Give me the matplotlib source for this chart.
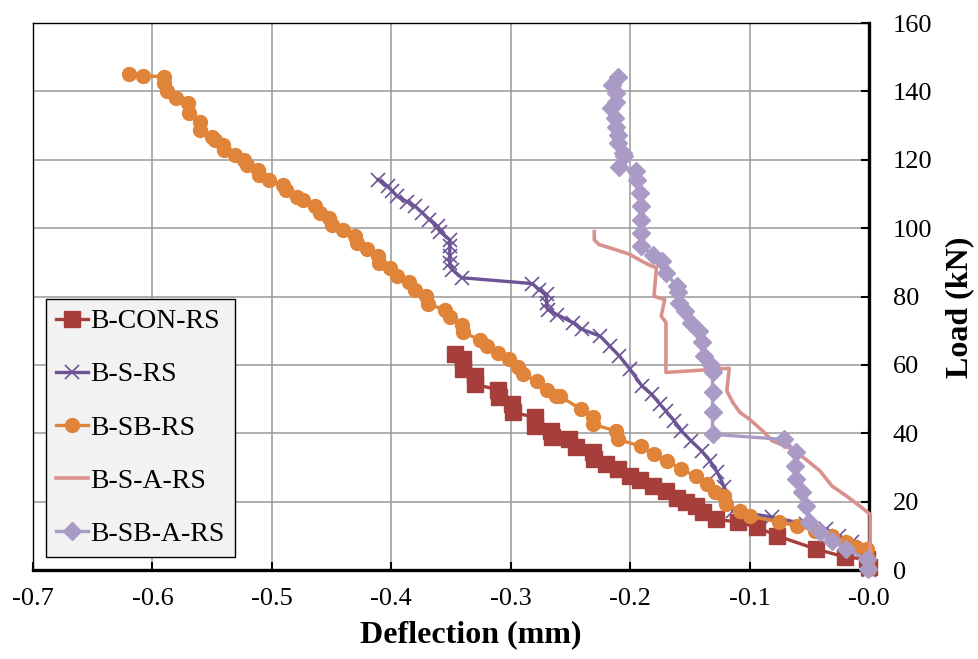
import numpy as np
import matplotlib.pyplot as plt
from matplotlib.lines import Line2D

plt.rcParams['font.family'] = ['Liberation Serif', 'DejaVu Serif']
plt.rcParams['axes.unicode_minus'] = False

# Load-deflection curves (deflection in mm, load in kN)
con_x = [-0.347, -0.340, -0.340, -0.330, -0.330, -0.311, -0.310, -0.299, -0.298, -0.280,
         -0.280, -0.266, -0.265, -0.251, -0.245, -0.231, -0.230, -0.220, -0.210, -0.200,
         -0.192, -0.181, -0.170, -0.161, -0.153, -0.145, -0.139, -0.128, -0.110, -0.094,
         -0.077, -0.044, -0.020, -0.002, 0.0]
con_y = [63.1, 61.6, 58.7, 56.7, 54.3, 52.8, 50.5, 48.5, 46.1, 44.7,
         42.1, 40.7, 38.8, 38.2, 35.9, 34.4, 32.4, 30.9, 29.5, 27.5,
         26.4, 24.6, 23.2, 21.2, 19.8, 18.8, 16.9, 14.9, 14.0, 12.6,
         10.0, 6.1, 3.8, 3.2, 1.0]

s_x = [-0.411, -0.403, -0.399, -0.395, -0.387, -0.380, -0.374, -0.368, -0.361, -0.359,
       -0.351, -0.351, -0.351, -0.351, -0.349, -0.341, -0.282, -0.276, -0.270, -0.270,
       -0.269, -0.261, -0.248, -0.240, -0.225, -0.217, -0.209, -0.200, -0.190, -0.182,
       -0.175, -0.170, -0.163, -0.157, -0.149, -0.140, -0.133, -0.127, -0.121, -0.114,
       -0.081, -0.053, -0.036, -0.025, -0.014, -0.004, 0.0, 0.0]
s_y = [114.2, 112.2, 110.8, 109.3, 107.8, 106.4, 104.5, 102.5, 100.5, 99.0,
       96.6, 94.7, 91.8, 89.9, 87.9, 85.5, 83.8, 82.0, 80.6, 78.2,
       76.2, 74.7, 72.4, 70.4, 68.4, 65.5, 62.6, 58.7, 53.8, 51.4,
       48.5, 46.5, 43.6, 40.7, 37.8, 34.8, 31.9, 28.6, 24.2, 17.3,
       15.5, 13.4, 12.0, 10.0, 8.2, 6.7, 3.0, 0.0]

sb_x = [-0.620, -0.608, -0.590, -0.590, -0.588, -0.580, -0.570, -0.569, -0.560, -0.560,
        -0.550, -0.548, -0.541, -0.540, -0.531, -0.523, -0.521, -0.512, -0.511, -0.502,
        -0.491, -0.488, -0.479, -0.474, -0.464, -0.460, -0.452, -0.450, -0.440, -0.430,
        -0.429, -0.420, -0.411, -0.410, -0.401, -0.395, -0.385, -0.380, -0.371, -0.369,
        -0.355, -0.351, -0.341, -0.340, -0.326, -0.320, -0.311, -0.301, -0.294, -0.290,
        -0.278, -0.270, -0.262, -0.259, -0.241, -0.231, -0.231, -0.212, -0.210, -0.191,
        -0.180, -0.169, -0.157, -0.145, -0.136, -0.129, -0.121, -0.120, -0.108, -0.100,
        -0.075, -0.060, -0.045, -0.031, -0.019, -0.011, -0.002, -0.001, 0.0]
sb_y = [145.0, 144.6, 144.3, 142.5, 140.0, 138.0, 136.6, 133.7, 131.2, 128.8,
        126.8, 125.8, 124.4, 122.9, 121.5, 120.0, 118.5, 117.0, 115.6, 114.2,
        112.7, 111.2, 109.2, 108.3, 106.4, 104.5, 103.0, 101.0, 99.6, 97.6,
        95.7, 94.0, 91.8, 89.9, 88.4, 85.9, 84.2, 82.0, 80.1, 77.7,
        76.2, 73.9, 71.8, 69.5, 67.4, 65.5, 63.6, 61.6, 59.3, 57.2,
        55.3, 52.8, 50.9, 50.9, 47.0, 44.7, 42.6, 40.7, 38.2, 36.2,
        33.9, 31.9, 29.5, 27.4, 25.1, 22.9, 21.7, 19.3, 17.3, 15.8,
        14.0, 13.0, 11.5, 9.9, 8.2, 6.7, 6.1, 3.2, 0.3]

sa_x = [-0.230, -0.230, -0.226, -0.212, -0.200, -0.190, -0.182, -0.178, -0.180, -0.171,
        -0.174, -0.170, -0.170, -0.117, -0.119, -0.114, -0.108, -0.100, -0.089, -0.081,
        -0.064, -0.053, -0.041, -0.031, -0.019, -0.008, 0.001, 0.001]
sa_y = [99.0, 96.6, 95.2, 93.7, 92.3, 90.3, 88.9, 88.5, 80.1, 79.1,
        74.3, 72.4, 57.8, 59.0, 52.4, 49.0, 46.1, 44.1, 40.7, 37.8,
        35.3, 32.4, 29.0, 24.6, 21.7, 18.8, 16.3, 0.0]

sba_x = [-0.210, -0.215, -0.212, -0.212, -0.216, -0.213, -0.212, -0.210, -0.210, -0.206,
         -0.205, -0.209, -0.195, -0.194, -0.192, -0.191, -0.191, -0.191, -0.191, -0.181,
         -0.173, -0.170, -0.161, -0.160, -0.159, -0.154, -0.149, -0.142, -0.140, -0.138,
         -0.132, -0.131, -0.131, -0.131, -0.131, -0.071, -0.061, -0.062, -0.061, -0.056,
         -0.053, -0.050, -0.041, -0.031, -0.019, -0.002, -0.001]
sba_y = [144.3, 141.9, 139.5, 137.0, 135.2, 132.3, 129.7, 127.3, 125.0, 122.0,
         121.0, 118.0, 116.6, 114.0, 110.3, 106.4, 102.5, 98.7, 94.7, 92.3,
         90.3, 87.0, 83.0, 81.2, 78.2, 75.7, 72.4, 69.9, 66.6, 62.6,
         60.1, 57.8, 52.0, 46.1, 39.7, 38.2, 34.4, 30.4, 26.6, 22.8,
         18.8, 14.0, 11.1, 8.6, 6.1, 3.2, 0.3]

labels = ['B-CON-RS', 'B-S-RS', 'B-SB-RS', 'B-S-A-RS', 'B-SB-A-RS']
colors = ['#A63F3B', '#6D5495', '#E0843A', '#D9918C', '#A99BC6']

fig = plt.figure(figsize=(9.79, 6.59), dpi=100)
ax = fig.add_axes([0.0337, 0.135, 0.8539, 0.830])

ax.plot(con_x, con_y, color=colors[0], lw=2.4, marker='s', ms=11, clip_on=False, zorder=3)
ax.plot(s_x, s_y, color=colors[1], lw=2.4, marker='x', ms=9.5, mew=1.2, clip_on=False, zorder=3)
ax.plot(sb_x, sb_y, color=colors[2], lw=2.4, marker='o', ms=10, clip_on=False, zorder=3)
ax.plot(sa_x, sa_y, color=colors[3], lw=2.6, clip_on=False, zorder=3)
ax.plot(sba_x, sba_y, color=colors[4], lw=2.4, marker='D', ms=9, clip_on=False, zorder=3)

ax.set_xlim(-0.7, 0.0)
ax.set_ylim(0, 160)
ax.set_xticks(np.arange(-0.7, 0.01, 0.1))
ax.set_xticklabels(['%.1f' % v for v in np.arange(-0.7, 0.01, 0.1)])
ax.set_yticks(np.arange(0, 161, 20))

ax.yaxis.tick_right()
ax.yaxis.set_label_position('right')
ax.grid(True, color='#999999', lw=1.1)
ax.set_axisbelow(True)

for side in ['top', 'left']:
    ax.spines[side].set_linewidth(1.0)
for side in ['bottom', 'right']:
    ax.spines[side].set_linewidth(2.4)

ax.tick_params(axis='x', direction='in', length=6, width=1.5, labelsize=19, pad=13)
ax.tick_params(axis='y', direction='in', length=6, width=1.5, labelsize=19, pad=17)

ax.set_xlabel('Deflection (mm)', fontsize=23, fontweight='bold')
ax.xaxis.set_label_coords(0.524, -0.091)
ax.set_ylabel('Load (kN)', fontsize=23, fontweight='bold', rotation=90)
ax.yaxis.set_label_coords(1.091, 0.481)

handles = [
    Line2D([], [], color=colors[0], lw=2.4, marker='s', ms=11),
    Line2D([], [], color=colors[1], lw=2.4, marker='x', ms=9.5, mew=1.2),
    Line2D([], [], color=colors[2], lw=2.4, marker='o', ms=10),
    Line2D([], [], color=colors[3], lw=2.6),
    Line2D([], [], color=colors[4], lw=2.4, marker='D', ms=9),
]
leg = ax.legend(handles, labels, loc='upper left', bbox_to_anchor=(0.0156, 0.4954),
                borderaxespad=0, fontsize=20, fancybox=False, framealpha=1,
                facecolor='#f2f2f2', edgecolor='black', handlelength=1.15,
                handletextpad=0.1, labelspacing=1.0, borderpad=0.35)
leg.get_frame().set_linewidth(1.0)

fig.savefig('out.png', dpi=100)
